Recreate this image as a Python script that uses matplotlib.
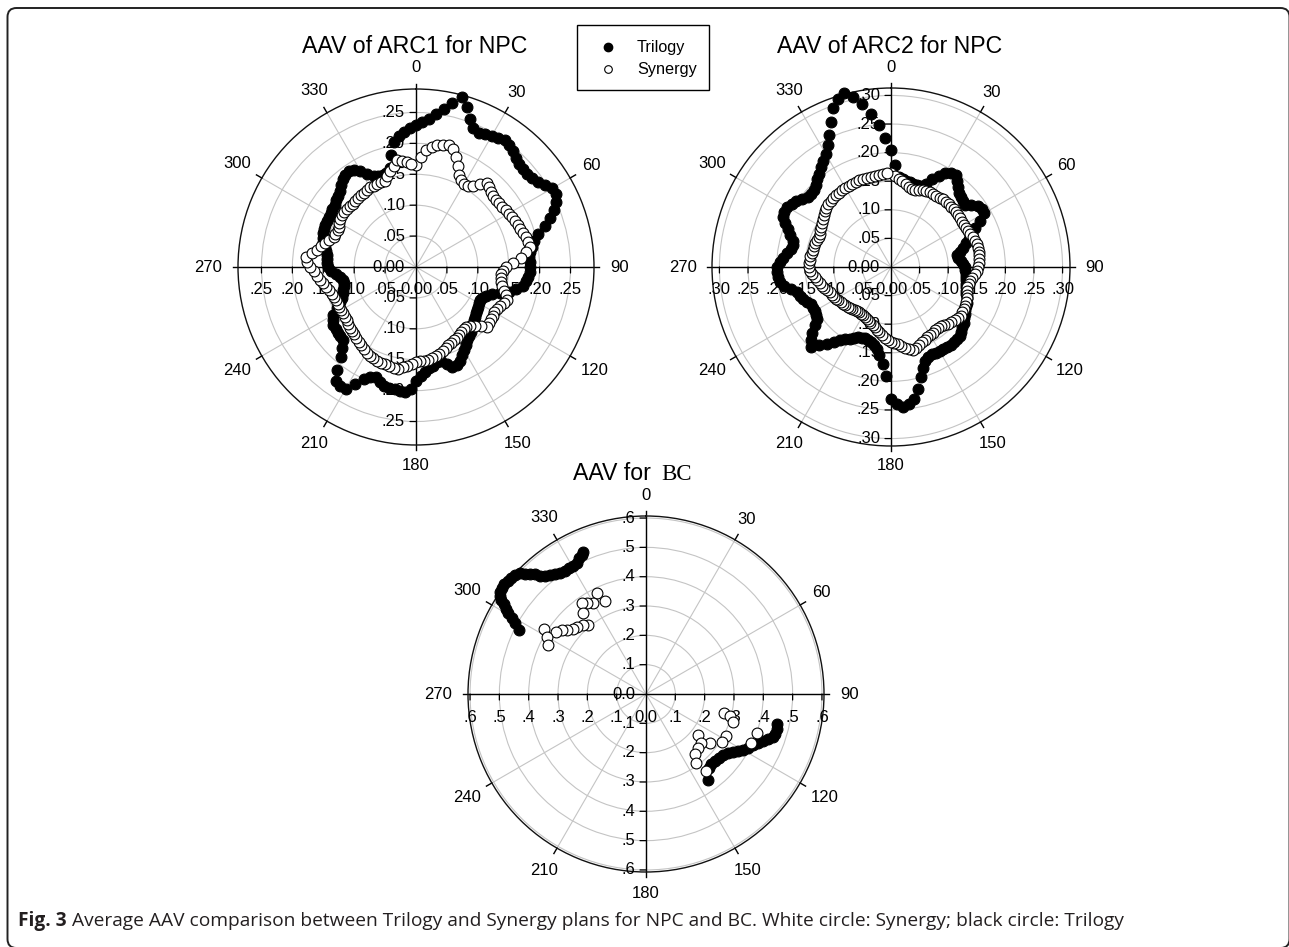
import numpy as np
import matplotlib.pyplot as plt
from matplotlib.patches import FancyBboxPatch, Rectangle

plt.rcParams['font.family'] = ['Liberation Sans', 'DejaVu Sans']

W, H = 1289, 947

# angles (degrees, clockwise from top) for the NPC arcs
angles = np.arange(0, 360, 2.5)

# AAV values, one per 2.5 degrees (12 per row = 30 degrees)
arc1_trilogy = [0.230, 0.235, 0.240, 0.250, 0.260, 0.272, 0.285, 0.272, 0.255, 0.243, 0.240, 0.242,
                0.245, 0.248, 0.250, 0.248, 0.245, 0.240, 0.235, 0.234, 0.235, 0.237, 0.240, 0.248,
                0.255, 0.255, 0.250, 0.242, 0.230, 0.218, 0.205, 0.196, 0.190, 0.186, 0.183, 0.184,
                0.185, 0.184, 0.182, 0.179, 0.175, 0.166, 0.155, 0.142, 0.130, 0.123, 0.118, 0.117,
                0.118, 0.119, 0.120, 0.122, 0.125, 0.127, 0.130, 0.134, 0.138, 0.141, 0.145, 0.150,
                0.155, 0.161, 0.168, 0.172, 0.172, 0.165, 0.158, 0.158, 0.162, 0.165, 0.170, 0.176,
                0.185, 0.197, 0.203, 0.202, 0.200, 0.200, 0.200, 0.195, 0.190, 0.193, 0.200, 0.213,
                0.228, 0.229, 0.226, 0.210, 0.190, 0.177, 0.167, 0.166, 0.165, 0.164, 0.163, 0.160,
                0.155, 0.145, 0.135, 0.129, 0.125, 0.123, 0.121, 0.120, 0.120, 0.124, 0.130, 0.137,
                0.142, 0.144, 0.145, 0.146, 0.148, 0.151, 0.155, 0.158, 0.160, 0.161, 0.162, 0.162,
                0.163, 0.164, 0.165, 0.166, 0.168, 0.171, 0.175, 0.180, 0.185, 0.188, 0.190, 0.186,
                0.180, 0.170, 0.162, 0.159, 0.158, 0.160, 0.165, 0.185, 0.205, 0.213, 0.220, 0.225]
arc1_synergy = [0.165, 0.178, 0.190, 0.196, 0.200, 0.203, 0.205, 0.200, 0.190, 0.177, 0.165, 0.158,
                0.155, 0.156, 0.160, 0.170, 0.178, 0.176, 0.172, 0.170, 0.168, 0.169, 0.170, 0.172,
                0.173, 0.175, 0.176, 0.178, 0.179, 0.182, 0.185, 0.186, 0.187, 0.180, 0.170, 0.157,
                0.145, 0.141, 0.138, 0.138, 0.139, 0.143, 0.147, 0.152, 0.157, 0.154, 0.150, 0.148,
                0.146, 0.147, 0.148, 0.149, 0.150, 0.142, 0.135, 0.130, 0.127, 0.127, 0.128, 0.130,
                0.132, 0.133, 0.135, 0.137, 0.140, 0.143, 0.146, 0.148, 0.150, 0.151, 0.152, 0.153,
                0.154, 0.157, 0.160, 0.164, 0.167, 0.167, 0.166, 0.165, 0.165, 0.164, 0.163, 0.162,
                0.160, 0.158, 0.155, 0.152, 0.150, 0.148, 0.147, 0.145, 0.143, 0.141, 0.140, 0.140,
                0.140, 0.140, 0.140, 0.140, 0.141, 0.143, 0.146, 0.149, 0.152, 0.156, 0.160, 0.166,
                0.172, 0.176, 0.178, 0.170, 0.163, 0.157, 0.152, 0.147, 0.142, 0.141, 0.140, 0.141,
                0.143, 0.145, 0.146, 0.146, 0.146, 0.145, 0.145, 0.145, 0.145, 0.146, 0.147, 0.148,
                0.149, 0.148, 0.148, 0.148, 0.148, 0.154, 0.160, 0.168, 0.176, 0.173, 0.170, 0.167]
arc2_trilogy = [0.205, 0.178, 0.158, 0.155, 0.153, 0.152, 0.151, 0.150, 0.150, 0.158, 0.170, 0.180,
                0.190, 0.195, 0.197, 0.190, 0.182, 0.176, 0.172, 0.170, 0.170, 0.177, 0.185, 0.188,
                0.188, 0.176, 0.162, 0.153, 0.145, 0.137, 0.130, 0.123, 0.118, 0.119, 0.122, 0.126,
                0.130, 0.130, 0.131, 0.132, 0.133, 0.134, 0.135, 0.137, 0.140, 0.143, 0.147, 0.148,
                0.150, 0.153, 0.156, 0.160, 0.163, 0.167, 0.170, 0.171, 0.172, 0.172, 0.171, 0.170,
                0.170, 0.169, 0.168, 0.170, 0.175, 0.186, 0.200, 0.218, 0.235, 0.242, 0.245, 0.240,
                0.230, 0.190, 0.170, 0.155, 0.145, 0.140, 0.136, 0.134, 0.133, 0.134, 0.135, 0.140,
                0.145, 0.150, 0.156, 0.165, 0.175, 0.186, 0.197, 0.190, 0.180, 0.168, 0.159, 0.155,
                0.153, 0.154, 0.155, 0.159, 0.163, 0.167, 0.171, 0.180, 0.190, 0.195, 0.198, 0.199,
                0.200, 0.195, 0.190, 0.184, 0.178, 0.176, 0.178, 0.185, 0.192, 0.200, 0.208, 0.210,
                0.210, 0.206, 0.202, 0.196, 0.190, 0.189, 0.190, 0.195, 0.200, 0.206, 0.213, 0.220,
                0.228, 0.240, 0.255, 0.275, 0.295, 0.308, 0.315, 0.305, 0.290, 0.270, 0.250, 0.225]
arc2_synergy = [0.164, 0.160, 0.155, 0.151, 0.147, 0.144, 0.142, 0.142, 0.143, 0.145, 0.146, 0.147,
                0.147, 0.148, 0.148, 0.149, 0.149, 0.149, 0.149, 0.149, 0.149, 0.148, 0.148, 0.148,
                0.148, 0.148, 0.149, 0.150, 0.152, 0.154, 0.155, 0.156, 0.156, 0.156, 0.155, 0.154,
                0.152, 0.150, 0.147, 0.143, 0.140, 0.139, 0.138, 0.139, 0.141, 0.143, 0.145, 0.146,
                0.147, 0.148, 0.149, 0.147, 0.145, 0.142, 0.140, 0.137, 0.135, 0.135, 0.135, 0.136,
                0.137, 0.138, 0.140, 0.142, 0.145, 0.148, 0.150, 0.147, 0.143, 0.140, 0.136, 0.133,
                0.131, 0.128, 0.125, 0.120, 0.116, 0.112, 0.109, 0.107, 0.105, 0.102, 0.100, 0.098,
                0.097, 0.097, 0.097, 0.098, 0.099, 0.100, 0.102, 0.103, 0.104, 0.105, 0.107, 0.109,
                0.111, 0.112, 0.114, 0.116, 0.119, 0.122, 0.125, 0.128, 0.131, 0.134, 0.138, 0.141,
                0.144, 0.144, 0.143, 0.142, 0.141, 0.140, 0.140, 0.139, 0.138, 0.137, 0.137, 0.139,
                0.141, 0.143, 0.146, 0.148, 0.151, 0.153, 0.155, 0.156, 0.157, 0.158, 0.159, 0.159,
                0.160, 0.160, 0.161, 0.161, 0.162, 0.162, 0.162, 0.162, 0.161, 0.162, 0.163, 0.164]

# BC: only part of the circle is covered
bc_trilogy_deg = [336.2, 335.2, 333.8, 332.2, 330.5, 328.6, 326.7, 324.7, 322.8, 321.0, 319.4, 318.2,
                  317.2, 316.0, 314.9, 313.8, 312.3, 310.8, 309.3, 307.8, 306.3, 304.9, 303.8, 303.0,
                  302.2, 301.4, 300.4, 299.4, 298.6, 296.8,
                  102.9, 105.1, 107.2, 108.9, 110.3, 112.0, 113.7, 115.6, 117.7, 119.9, 121.8, 123.7,
                  125.8, 128.4, 131.2, 134.2, 137.1, 139.9, 144.1]
bc_trilogy_r = [0.530, 0.522, 0.515, 0.506, 0.503, 0.502, 0.503, 0.507, 0.512, 0.520, 0.529, 0.542,
                0.556, 0.569, 0.582, 0.595, 0.603, 0.607, 0.610, 0.611, 0.610, 0.607, 0.600, 0.589,
                0.574, 0.559, 0.544, 0.525, 0.508, 0.484,
                0.457, 0.461, 0.461, 0.456, 0.445, 0.431, 0.418, 0.405, 0.394, 0.383, 0.370, 0.358,
                0.346, 0.336, 0.331, 0.328, 0.327, 0.331, 0.362]
bc_synergy_deg = [334.0, 336.3, 330.0, 327.3, 324.6, 321.9, 320.2, 317.6, 314.2, 311.6, 308.9, 307.2,
                  304.7, 302.4, 300.0, 296.6,
                  103.9, 104.5, 107.6, 109.6, 115.2, 117.7, 122.6, 127.6, 128.1, 131.5, 136.1, 140.6,
                  144.1, 142.0]
bc_synergy_r = [0.384, 0.347, 0.359, 0.370, 0.379, 0.349, 0.307, 0.317, 0.326, 0.334, 0.347, 0.361,
                0.373, 0.412, 0.391, 0.372,
                0.274, 0.296, 0.312, 0.400, 0.395, 0.308, 0.306, 0.275, 0.227, 0.250, 0.257, 0.265,
                0.289, 0.332]

fig = plt.figure(figsize=(W / 100, H / 100), dpi=100)

# full-figure axes in pixel units for frame, legend and caption
bg = fig.add_axes([0, 0, 1, 1])
bg.set_xlim(0, W)
bg.set_ylim(H, 0)
bg.axis('off')
bg.add_patch(FancyBboxPatch((7.5, 8), 1282, 940, boxstyle='round,pad=0,rounding_size=9',
                            fill=False, ec='#222222', lw=1.4))

lab_fs = 12


def panel(cx, cy, R, rmax, rticks, fmt, tri_t, tri_r, syn_t, syn_r):
    ax = fig.add_axes([(cx - R) / W, (H - cy - R) / H, 2 * R / W, 2 * R / H], projection='polar')
    ax.set_theta_zero_location('N')
    ax.set_theta_direction(-1)
    ax.set_ylim(0, rmax)
    ax.set_rticks(rticks)
    ax.set_yticklabels([])
    ax.set_thetagrids(range(0, 360, 30), labels=[])
    ax.grid(color='#c4c4c4', lw=0.8)
    ax.spines['polar'].set_color('#111111')
    ax.spines['polar'].set_linewidth(1.0)

    # axis cross and the short ticks outside the circle
    for a in range(0, 360, 30):
        t = np.radians(a)
        if a % 90 == 0:
            ax.plot([t, t], [0, rmax * 1.03], color='black', lw=1.0, clip_on=False, zorder=2)
        else:
            ax.plot([t, t], [rmax, rmax * 1.035], color='black', lw=1.0, clip_on=False, zorder=2)
        d = 199 + 4.5 * (len(str(a)) - 1) * abs(np.sin(t))
        ax.annotate(str(a), xy=(t, 0), xytext=(d * np.sin(t), d * np.cos(t)),
                    textcoords='offset pixels', ha='center', va='center', fontsize=lab_fs)

    # radial labels on both axes
    for v in [0] + list(rticks):
        s = fmt(v)
        for a in (0, 180):
            if v == 0 and a == 180:
                continue
            ax.annotate(s, xy=(np.radians(a), v), xytext=(-11, 0), textcoords='offset pixels',
                        ha='right', va='center', fontsize=lab_fs)
            if v > 0:
                ax.annotate('', xy=(np.radians(a), v), xytext=(-6, 0), textcoords='offset pixels',
                            arrowprops=dict(arrowstyle='-', lw=0.9, shrinkA=0, shrinkB=0))
        for a in (90, 270):
            if v == 0 and a == 270:
                continue
            ax.annotate(s, xy=(np.radians(a), v), xytext=(0, -23), textcoords='offset pixels',
                        ha='center', va='center', fontsize=lab_fs)
            if v > 0:
                ax.annotate('', xy=(np.radians(a), v), xytext=(0, -6), textcoords='offset pixels',
                            arrowprops=dict(arrowstyle='-', lw=0.9, shrinkA=0, shrinkB=0))

    ax.plot(np.radians(tri_t), tri_r, 'o', ms=7.8, mfc='black', mec='black', mew=0.8,
            ls='none', clip_on=False, zorder=3)
    ax.plot(np.radians(syn_t), syn_r, 'o', ms=7.8, mfc='white', mec='black', mew=0.8,
            ls='none', clip_on=False, zorder=4)
    return ax


fmt2 = lambda v: '0.00' if v == 0 else f'{v:.2f}'[1:]
fmt1 = lambda v: '0.0' if v == 0 else f'{v:.1f}'[1:]

panel(416, 267, 178, 0.288, [0.05, 0.10, 0.15, 0.20, 0.25], fmt2,
      angles, arc1_trilogy, angles, arc1_synergy)
panel(891, 267, 179, 0.313, [0.05, 0.10, 0.15, 0.20, 0.25, 0.30], fmt2,
      angles, arc2_trilogy, angles, arc2_synergy)
panel(646, 694, 178, 0.607, [0.1, 0.2, 0.3, 0.4, 0.5, 0.6], fmt1,
      bc_trilogy_deg, bc_trilogy_r, bc_synergy_deg, bc_synergy_r)

# titles
bg.text(415, 53, 'AAV of ARC1 for NPC', ha='center', va='baseline', fontsize=16.7)
bg.text(890, 53, 'AAV of ARC2 for NPC', ha='center', va='baseline', fontsize=16.7)
bg.text(651, 480, 'AAV for', ha='right', va='baseline', fontsize=16.7)
bg.text(661, 480, 'BC', ha='left', va='baseline', fontsize=16.5, family='Liberation Serif')

# legend
bg.add_patch(Rectangle((577, 25), 132, 65, fill=False, ec='black', lw=1.0))
bg.plot(608, 47, 'o', ms=6, mfc='black', mec='black')
bg.plot(608, 69, 'o', ms=5.5, mfc='white', mec='black', mew=0.8)
bg.text(637, 47, 'Trilogy', va='center', fontsize=11.7)
bg.text(637, 69, 'Synergy', va='center', fontsize=11.7)

# caption
cap_fs = 11.5
c1 = bg.text(18, 921, 'Fig. 3', family='Open Sans', fontweight='bold', fontsize=cap_fs,
             va='center', color='#231f20')
c2 = bg.text(0, 921, 'Average AAV comparison between Trilogy and Synergy plans for NPC and BC. '
             'White circle: Synergy; black circle: Trilogy', family='Open Sans', fontsize=cap_fs,
             va='center', color='#231f20')
fig.canvas.draw()
rend = fig.canvas.get_renderer()
w1 = c1.get_window_extent(rend).width
w2 = c2.get_window_extent(rend).width
k = (1128 - 18) / (w1 + 5 + w2)
c1.set_fontsize(cap_fs * k)
c2.set_fontsize(cap_fs * k)
fig.canvas.draw()
c2.set_x(18 + c1.get_window_extent(rend).width + 5)

fig.savefig('out.png', dpi=100)
